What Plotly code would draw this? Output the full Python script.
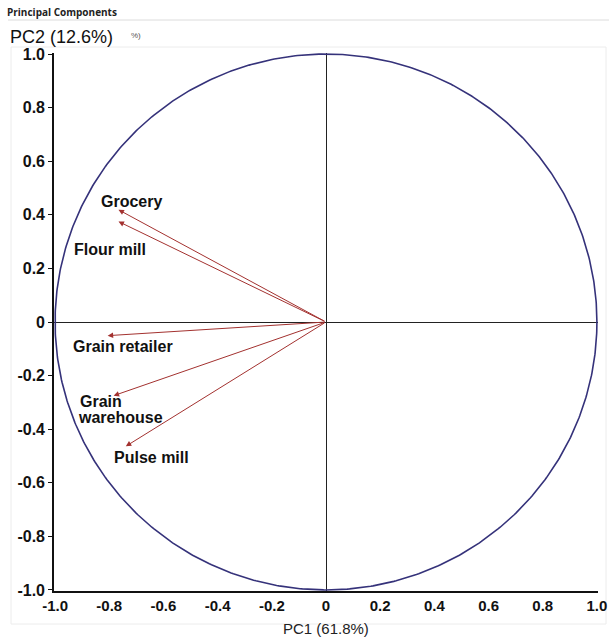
import numpy as np
import plotly.graph_objects as go

# Loadings of each variable on the first two principal components
variables = ["Grocery", "Flour mill", "Grain retailer", "Grain warehouse", "Pulse mill"]
pc1_loading = [-0.766, -0.766, -0.806, -0.784, -0.739]
pc2_loading = [0.419, 0.375, -0.051, -0.275, -0.464]

tick_values = [-1.0, -0.8, -0.6, -0.4, -0.2, 0.0, 0.2, 0.4, 0.6, 0.8, 1.0]
tick_labels = ["-1.0", "-0.8", "-0.6", "-0.4", "-0.2", "0", "0.2", "0.4", "0.6", "0.8", "1.0"]

pc1_title = "PC1 (61.8%)"
pc2_title = "PC2 (12.6%)"

FONT = "Liberation Sans, Arial, sans-serif"
ARROW_COLOR = "#a3312f"
CIRCLE_COLOR = "#35327a"

W, H = 609, 637
ML, MR, MT, MB = 54, 11, 53, 46
PW, PH = W - ML - MR, H - MT - MB


def px_to_paper(px, py):
    return (px - ML) / PW, (H - MB - py) / PH


fig = go.Figure()

# Unit correlation circle
theta = np.linspace(0, 2 * np.pi, 721)
fig.add_trace(go.Scatter(
    x=np.cos(theta), y=np.sin(theta), mode="lines",
    line=dict(color=CIRCLE_COLOR, width=1.6),
    hoverinfo="skip", showlegend=False,
))

annotations = []

# Loading vectors drawn from the origin
for x, y in zip(pc1_loading, pc2_loading):
    annotations.append(dict(
        x=x, y=y, ax=0, ay=0, xref="x", yref="y", axref="x", ayref="y",
        text="", showarrow=True, arrowhead=2, arrowsize=1.1,
        arrowwidth=1, arrowcolor=ARROW_COLOR,
    ))

# Variable labels, placed relative to each vector tip
label_offsets = {
    "Grocery": [("Grocery", 0.049, 0.031)],
    "Flour mill": [("Flour mill", -0.032, -0.104)],
    "Grain retailer": [("Grain retailer", 0.055, -0.041)],
    "Grain warehouse": [("Grain", -0.047, -0.021), ("warehouse", 0.027, -0.080)],
    "Pulse mill": [("Pulse mill", 0.096, -0.042)],
}
for name, x, y in zip(variables, pc1_loading, pc2_loading):
    for text, dx, dy in label_offsets[name]:
        annotations.append(dict(
            x=x + dx, y=y + dy, xref="x", yref="y", text=text, showarrow=False,
            xanchor="center", yanchor="middle",
            font=dict(family=FONT, size=16, color="#111111", weight="bold"),
        ))

# Axis titles and panel caption
px_, py_ = px_to_paper(8, 37)
annotations.append(dict(x=px_, y=py_, xref="paper", yref="paper", text=pc2_title,
                        showarrow=False, xanchor="left", yanchor="middle",
                        font=dict(family=FONT, size=18, color="#111111")))
px_, py_ = px_to_paper(326, 628)
annotations.append(dict(x=px_, y=py_, xref="paper", yref="paper", text=pc1_title,
                        showarrow=False, xanchor="center", yanchor="middle",
                        font=dict(family=FONT, size=15, color="#222222")))
px_, py_ = px_to_paper(5, 12)
annotations.append(dict(x=px_, y=py_, xref="paper", yref="paper", text="Principal Components",
                        showarrow=False, xanchor="left", yanchor="middle",
                        font=dict(family="Open Sans, sans-serif", size=10, color="#222222",
                                  weight="bold")))
px_, py_ = px_to_paper(129, 36)
annotations.append(dict(x=px_, y=py_, xref="paper", yref="paper", text="%)",
                        showarrow=False, xanchor="left", yanchor="middle",
                        font=dict(family=FONT, size=8, color="#555555")))

shapes = []
# Thin rule below the caption
x0, y0 = px_to_paper(8, 20)
x1, _ = px_to_paper(609, 20)
shapes.append(dict(type="line", xref="paper", yref="paper", x0=x0, x1=x1, y0=y0, y1=y0,
                   line=dict(color="#dcdcdc", width=1), layer="below"))
# Light panel frame
fx0, fy0 = px_to_paper(11, 624)
fx1, fy1 = px_to_paper(606, 47)
shapes.append(dict(type="rect", xref="paper", yref="paper", x0=fx0, x1=fx1, y0=fy0, y1=fy1,
                   line=dict(color="#ececec", width=1), fillcolor="rgba(0,0,0,0)",
                   layer="below"))

axis_common = dict(
    range=[-1.004, 1.004], automargin=False,
    tickvals=tick_values, ticktext=tick_labels,
    showgrid=False, zeroline=True, zerolinecolor="#222222", zerolinewidth=1,
    showline=True, linecolor="#111111", linewidth=1.6,
)

fig.update_layout(
    width=W, height=H, autosize=False,
    margin=dict(l=ML, r=MR, t=MT, b=MB),
    paper_bgcolor="white", plot_bgcolor="white",
    showlegend=False,
    xaxis=dict(**axis_common, ticks="",
               tickfont=dict(family=FONT, size=15, color="#111111", weight="bold")),
    yaxis=dict(**axis_common, ticks="outside", ticklen=4, tickcolor="#111111",
               tickfont=dict(family=FONT, size=16, color="#111111", weight="bold")),
    annotations=annotations,
    shapes=shapes,
)

fig.write_html("out.html")
